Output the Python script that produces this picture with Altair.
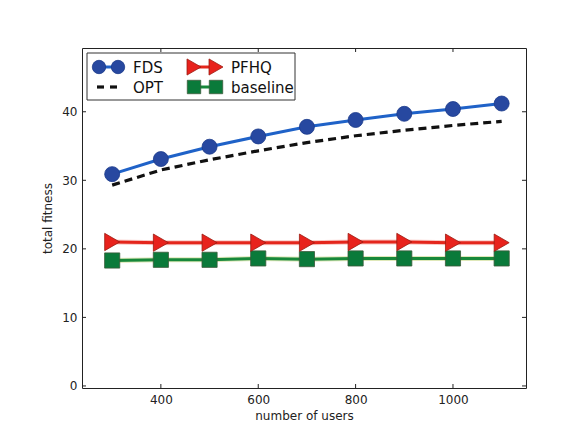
import altair as alt
import pandas as pd

users = [300, 400, 500, 600, 700, 800, 900, 1000, 1100]
fds = [30.9, 33.1, 34.9, 36.4, 37.8, 38.8, 39.7, 40.4, 41.2]
opt = [29.3, 31.5, 33.0, 34.3, 35.5, 36.5, 37.3, 38.0, 38.6]
pfhq = [21.0, 20.9, 20.9, 20.9, 20.9, 21.0, 21.0, 20.9, 20.9]
baseline = [18.3, 18.4, 18.4, 18.6, 18.5, 18.6, 18.6, 18.6, 18.6]

x_ticks = [400, 600, 800, 1000]
y_ticks = [0, 10, 20, 30, 40]

W, H = 444, 340
FONT = "DejaVu Sans"

xs = alt.Scale(domain=[238, 1150], nice=False, zero=False)
ys = alt.Scale(domain=[-0.3, 49.3], nice=False, zero=False)

xaxis = alt.Axis(values=x_ticks, format="d", ticks=False, domain=False, grid=False,
                 labelFont=FONT, labelFontSize=12, labelColor="#222",
                 labelPadding=6, title="number of users", titleFont=FONT,
                 titleFontSize=12, titleFontWeight="normal", titleColor="#222",
                 titlePadding=5)
yaxis = alt.Axis(values=y_ticks, format="d", ticks=False, domain=False, grid=False,
                 labelFont=FONT, labelFontSize=12, labelColor="#222",
                 labelPadding=5, title="total fitness", titleFont=FONT,
                 titleFontSize=12, titleFontWeight="normal", titleColor="#222",
                 titlePadding=7)

def frame(vals):
    return pd.DataFrame({"users": users, "v": vals})

X = alt.X("users:Q", scale=xs, axis=xaxis)
Y = alt.Y("v:Q", scale=ys, axis=yaxis)

def series_layers(vals, color, halo, shape, fill, stroke, size, dash=None):
    base = alt.Chart(frame(vals))
    layers = []
    if halo:
        layers.append(base.mark_line(color=halo, strokeWidth=5, opacity=0.6).encode(x=X, y=Y))
    if dash:
        layers.append(base.mark_line(color=color, strokeWidth=3.2, strokeDash=dash).encode(x=X, y=Y))
    else:
        layers.append(base.mark_line(color=color, strokeWidth=3).encode(x=X, y=Y))
    if shape:
        layers.append(base.mark_point(shape=shape, filled=True, fill=fill, stroke=stroke,
                                      strokeWidth=0.8, size=size, opacity=1).encode(x=X, y=Y))
    return layers

layers = []
layers += series_layers(baseline, "#17883a", "#c9d98a", "square", "#0a7a3a", "#3a5a3a", 230)
layers += series_layers(pfhq, "#e4261c", "#f5a6a0", "triangle-right", "#e8221c", "#9a1a10", 300)
layers += series_layers(opt, "#111111", None, None, None, None, None, dash=[8, 5])
layers += series_layers(fds, "#1f62c8", None, "circle", "#2748a0", "#1b3a8a", 225)

# inward tick marks via the scales
xt = alt.Chart(pd.DataFrame({"users": x_ticks}))
yt = alt.Chart(pd.DataFrame({"v": y_ticks}))
tick_style = dict(color="#222", strokeWidth=1)
layers.append(xt.mark_rule(**tick_style).encode(x=X, y=alt.value(H), y2=alt.value(H - 4)))
layers.append(xt.mark_rule(**tick_style).encode(x=X, y=alt.value(0), y2=alt.value(4)))
layers.append(yt.mark_rule(**tick_style).encode(y=Y, x=alt.value(0), x2=alt.value(4)))
layers.append(yt.mark_rule(**tick_style).encode(y=Y, x=alt.value(W), x2=alt.value(W - 4)))

# manual legend
one = alt.Chart(pd.DataFrame({"a": [0]}))
layers.append(one.mark_rect(fill="white", stroke="#333", strokeWidth=1).encode(
    x=alt.value(5), x2=alt.value(213), y=alt.value(5), y2=alt.value(52)))

def leg_marker(x1, x2, y, color, shape, fill, stroke, size, label, lx):
    out = [one.mark_rule(color=color, strokeWidth=3).encode(x=alt.value(x1), x2=alt.value(x2), y=alt.value(y))]
    for xx in (x1, x2):
        out.append(one.mark_point(shape=shape, filled=True, fill=fill, stroke=stroke, strokeWidth=0.8,
                                  size=size, opacity=1).encode(x=alt.value(xx), y=alt.value(y)))
    out.append(one.mark_text(text=label, font=FONT, fontSize=15, align="left", baseline="middle",
                             color="#111").encode(x=alt.value(lx), y=alt.value(y + 1)))
    return out

layers += leg_marker(17, 36, 19, "#1f62c8", "circle", "#2748a0", "#1b3a8a", 180, "FDS", 51)
layers += leg_marker(112, 134, 19, "#e4261c", "triangle-right", "#e8221c", "#9a1a10", 260, "PFHQ", 149)
layers += leg_marker(112, 134, 39, "#17883a", "square", "#0a7a3a", "#3a5a3a", 180, "baseline", 149)
layers.append(one.mark_rule(color="#111", strokeWidth=3.2).encode(x=alt.value(15), x2=alt.value(22), y=alt.value(39)))
layers.append(one.mark_rule(color="#111", strokeWidth=3.2).encode(x=alt.value(28), x2=alt.value(35), y=alt.value(39)))
layers.append(one.mark_text(text="OPT", font=FONT, fontSize=15, align="left", baseline="middle",
                            color="#111").encode(x=alt.value(51), y=alt.value(40)))

chart = alt.layer(*layers).properties(
    width=W, height=H,
    autosize=alt.AutoSizeParams(type="none"),
    padding={"left": 74, "top": 40, "right": 44, "bottom": 34},
    background="white",
).configure_view(stroke="#222", strokeWidth=1)

chart.save("out.html", embed_options={"renderer": "svg", "actions": False})
